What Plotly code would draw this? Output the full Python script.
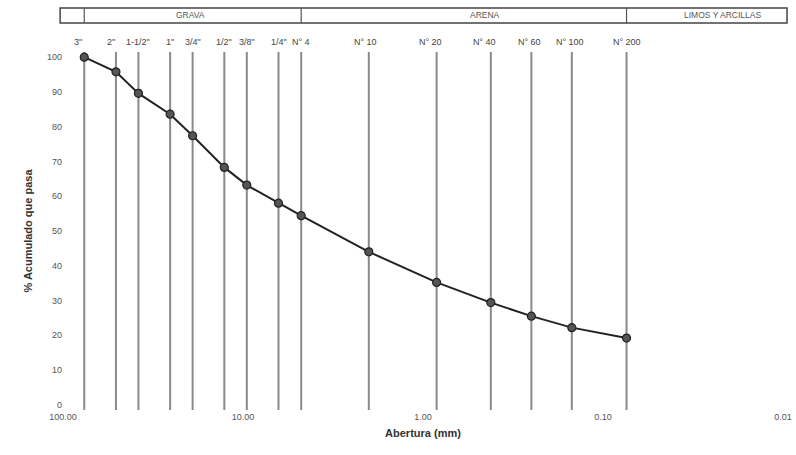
import math
import plotly.graph_objects as go

sieve_labels = ['3"', '2"', '1-1/2"', '1"', '3/4"', '1/2"', '3/8"', '1/4"',
                'N° 4', 'N° 10', 'N° 20', 'N° 40', 'N° 60', 'N° 100', 'N° 200']
sieve_mm = [76.2, 50.8, 38.1, 25.4, 19.05, 12.7, 9.525, 6.35,
            4.75, 2.0, 0.84, 0.42, 0.25, 0.149, 0.074]
pct_passing = [100.0, 95.8, 89.6, 83.6, 77.4, 68.3, 63.2, 58.0,
               54.4, 44.0, 35.2, 29.4, 25.5, 22.2, 19.2]

x_tick_vals = [100, 10, 1, 0.1, 0.01]
x_tick_text = ["100.00", "10.00", "1.00", "0.10", "0.01"]
y_tick_vals = list(range(0, 101, 10))

zones = ["GRAVA", "ARENA", "LIMOS Y ARCILLAS"]
zone_bounds = [76.2, 4.75, 0.074]  # dividers in the top band
zone_centers = [19.7, 0.45, 0.0218]

FONT = "Liberation Sans, Arial, sans-serif"
fig = go.Figure()

# vertical sieve lines
for xv in sieve_mm:
    fig.add_trace(go.Scatter(x=[xv, xv], y=[-1.5, 101.5], mode="lines",
                             line=dict(color="#8a8a8a", width=2),
                             hoverinfo="skip", showlegend=False))

# grading curve
fig.add_trace(go.Scatter(x=sieve_mm, y=pct_passing, mode="lines+markers",
                         line=dict(color="#222222", width=2),
                         marker=dict(size=8, color="#555555",
                                     line=dict(color="#222222", width=1.2)),
                         showlegend=False))

# sieve labels at top (annotation x on a log axis is log10 of the value)
label_shift = [-6, -5, 0, 0, 0, 0, 0, 0, 0, -3, -6, -6, -2, -2, 0]
for lab, xv, sh in zip(sieve_labels, sieve_mm, label_shift):
    fig.add_annotation(x=math.log10(xv), xref="x", y=1.0, yref="paper", text=lab,
                       showarrow=False, yanchor="bottom", yshift=3, xshift=sh,
                       font=dict(family=FONT, size=9, color="#444444"))

# top band rectangle (plot area spans 63..783 px)
band_y0, band_y1 = 1.081, 1.123
fig.add_shape(type="rect", xref="paper", yref="paper", x0=-0.004, x1=1.0056,
              y0=band_y0, y1=band_y1, line=dict(color="#444444", width=1.5))
for b in zone_bounds:
    fig.add_shape(type="line", xref="x", yref="paper", x0=b, x1=b,
                  y0=band_y0, y1=band_y1, line=dict(color="#555555", width=1.2))
for z, c in zip(zones, zone_centers):
    fig.add_annotation(x=math.log10(c), xref="x", y=(band_y0 + band_y1) / 2,
                       yref="paper", yanchor="middle", text=z, showarrow=False,
                       font=dict(family=FONT, size=8.5, color="#555555"))

fig.update_layout(
    width=796, height=455,
    margin=dict(l=63, r=13, t=52, b=45, autoexpand=False),
    paper_bgcolor="white", plot_bgcolor="white",
    font=dict(family=FONT, color="#444444"),
    xaxis=dict(type="log", range=[2, -2.0], tickvals=x_tick_vals,
               ticktext=x_tick_text, showgrid=False, zeroline=False,
               showline=False, ticks="", ticklabeloverflow="allow",
               automargin=False,
               tickfont=dict(size=9, color="#555555"),
               title=dict(text="<b>Abertura (mm)</b>", standoff=8,
                          font=dict(size=11, color="#333333"))),
    yaxis=dict(range=[-1.5, 101.5], tickvals=y_tick_vals, showgrid=False,
               zeroline=False, showline=False, ticks="", automargin=False,
               tickfont=dict(size=9, color="#555555"),
               title=dict(text="<b>% Acumulado que pasa</b>", standoff=12,
                          font=dict(size=11, color="#333333"))),
)

fig.write_html("out.html")
